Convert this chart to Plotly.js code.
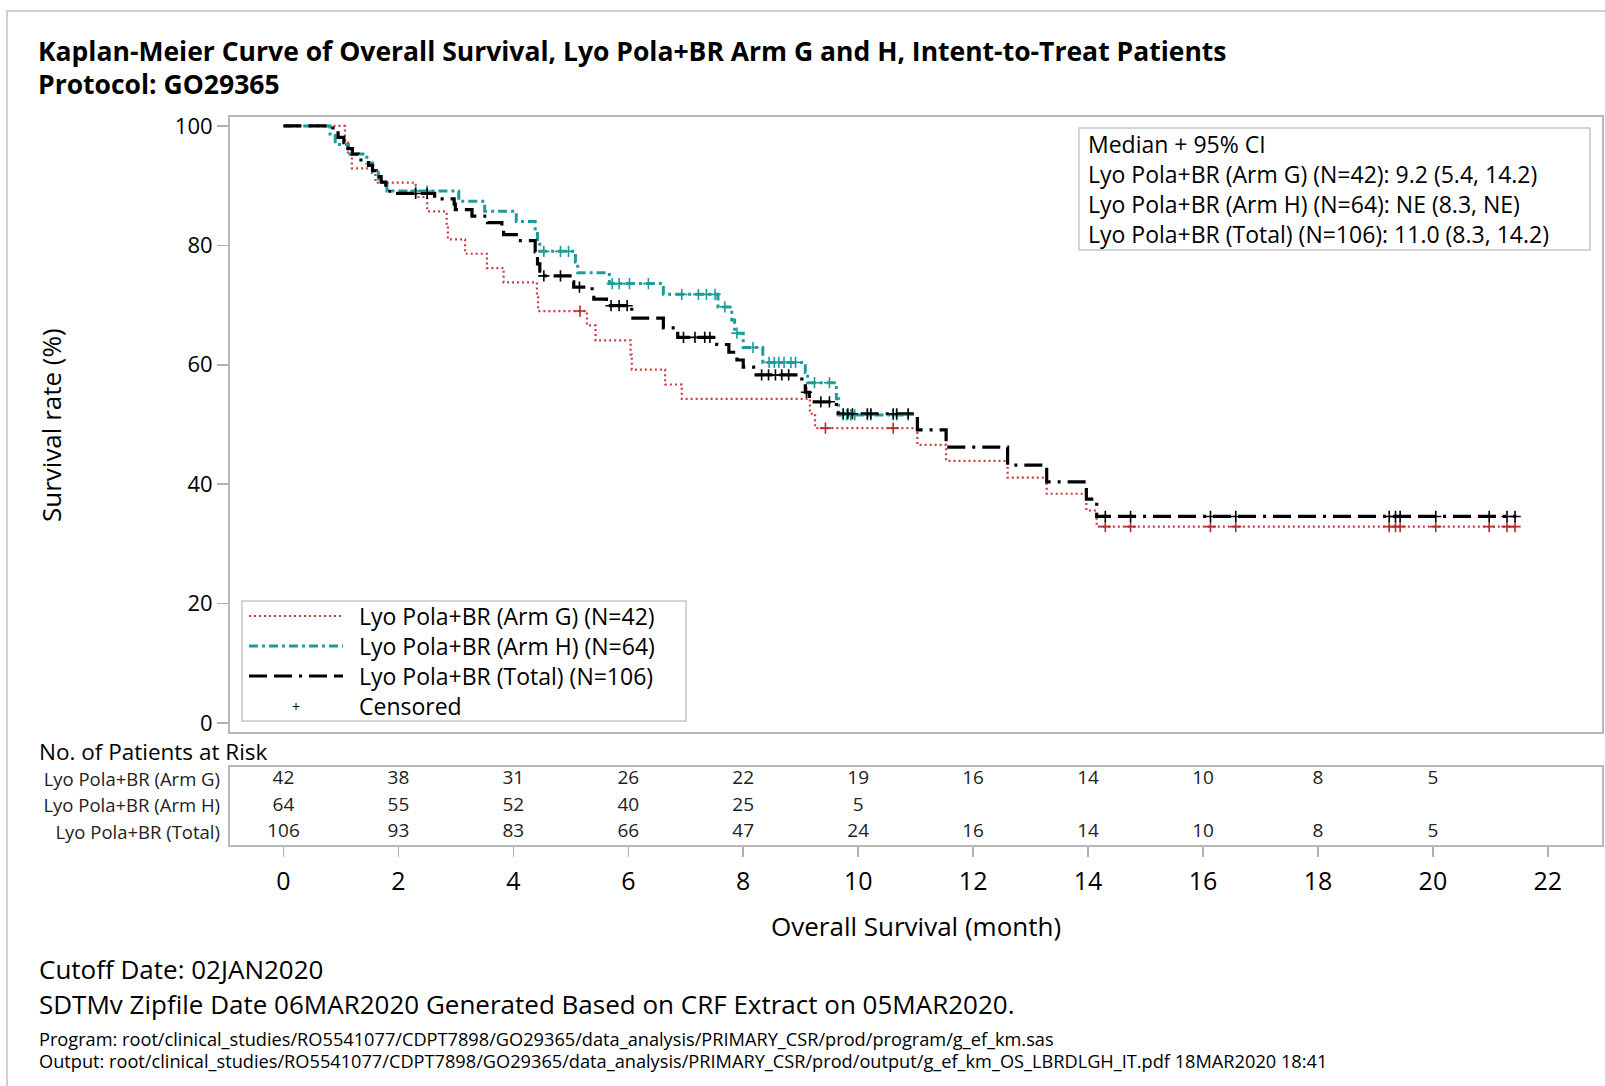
<!DOCTYPE html>
<html>
<head>
<meta charset="utf-8">
<script src="https://cdn.plot.ly/plotly-3.0.1.min.js"></script>
<style>
html,body{margin:0;padding:0;background:#fff;}
#chart{width:1605px;height:1086px;}
</style>
</head>
<body>
<div id="chart"></div>
<script>
// ---------------- DATA ----------------
// Arm G (N=42): Kaplan-Meier step times (months) and survival (%)
const armG_time = [0, 1.07, 1.12, 1.19, 1.60, 2.30, 2.50, 2.84, 2.86, 3.16, 3.54, 3.83, 4.41, 4.43, 5.28, 5.43, 6.04, 6.06, 6.64, 6.93, 9.16, 9.25, 11.03, 11.53, 12.60, 13.28, 13.97, 14.15, 21.45];
const armG_surv = [100, 97.6, 95.2, 92.9, 90.5, 88.1, 85.7, 83.3, 81.0, 78.6, 76.2, 73.8, 71.4, 69.0, 66.6, 64.1, 61.7, 59.2, 56.7, 54.3, 51.8, 49.4, 46.6, 43.9, 41.1, 38.4, 35.6, 32.9, 32.9];
const armG_censor = [5.16, 9.43, 10.61, 14.30, 14.74, 16.13, 16.57, 19.24, 19.35, 19.43, 20.05, 20.98, 21.29, 21.43];

// Arm H (N=64)
const armH_time = [0, 0.81, 0.90, 1.13, 1.45, 1.55, 1.65, 1.80, 3.05, 3.50, 4.05, 4.38, 4.42, 4.46, 5.08, 5.12, 5.67, 6.61, 7.56, 7.80, 7.85, 8.00, 8.34, 9.08, 9.12, 9.62, 9.66, 10.87];
const armH_surv = [100, 98.4, 96.9, 95.3, 93.8, 92.2, 90.6, 89.1, 87.4, 85.7, 84.0, 82.3, 80.6, 79.0, 77.2, 75.4, 73.6, 71.8, 69.7, 67.5, 65.3, 62.9, 60.4, 58.7, 57.0, 54.3, 51.6, 51.6];
const armH_censor = [2.30, 2.50, 4.53, 4.82, 4.96, 5.72, 5.84, 6.02, 6.35, 6.93, 7.22, 7.36, 7.51, 7.68, 7.89, 8.17, 8.45, 8.54, 8.62, 8.71, 8.83, 8.91, 9.24, 9.50, 9.74, 9.80, 9.87, 9.94, 10.16, 10.22, 10.61, 10.67, 10.87];

// Total (N=106)
const total_time = [0, 0.86, 0.95, 1.05, 1.12, 1.20, 1.30, 1.48, 1.55, 1.62, 1.70, 1.78, 1.85, 2.63, 2.97, 2.99, 3.28, 3.55, 3.80, 3.83, 4.05, 4.38, 4.42, 4.46, 5.02, 5.05, 5.37, 5.40, 5.62, 6.06, 6.08, 6.61, 6.86, 7.54, 7.75, 7.89, 8.00, 8.18, 9.02, 9.08, 9.15, 9.62, 9.65, 11.03, 11.53, 12.60, 13.28, 13.97, 14.15, 21.45];
const total_surv = [100, 99.1, 98.1, 97.2, 96.2, 95.3, 94.3, 93.4, 92.5, 91.5, 90.6, 89.6, 88.7, 87.8, 86.9, 86.0, 84.9, 83.8, 82.8, 81.8, 80.8, 78.9, 76.9, 74.9, 73.9, 73.0, 72.0, 71.0, 69.9, 68.9, 67.8, 66.2, 64.6, 63.4, 62.1, 60.8, 59.6, 58.3, 57.0, 55.4, 53.8, 52.8, 51.8, 49.1, 46.2, 43.2, 40.4, 37.5, 34.6, 34.6];
const total_censor = [2.30, 2.50, 4.53, 4.82, 5.15, 5.70, 5.84, 5.98, 6.96, 7.16, 7.33, 7.42, 8.32, 8.44, 8.56, 8.67, 8.79, 9.10, 9.35, 9.50, 9.74, 9.82, 9.90, 10.16, 10.22, 10.61, 10.67, 10.87, 14.30, 14.74, 16.13, 16.57, 19.24, 19.35, 19.43, 20.05, 20.98, 21.29, 21.43];

// Number at risk table
const riskTimes = [0, 2, 4, 6, 8, 10, 12, 14, 16, 18, 20];
const riskG = [42, 38, 31, 26, 22, 19, 16, 14, 10, 8, 5];
const riskH = [64, 55, 52, 40, 25, 5, null, null, null, null, null];
const riskT = [106, 93, 83, 66, 47, 24, 16, 14, 10, 8, 5];
const riskRowLabels = ["Lyo Pola+BR (Arm G)", "Lyo Pola+BR (Arm H)", "Lyo Pola+BR (Total)"];

// Series names and texts
const seriesNames = ["Lyo Pola+BR (Arm G) (N=42)", "Lyo Pola+BR (Arm H) (N=64)", "Lyo Pola+BR (Total) (N=106)", "Censored"];
const medianLines = ["Median + 95% CI", "Lyo Pola+BR (Arm G) (N=42): 9.2 (5.4, 14.2)", "Lyo Pola+BR (Arm H) (N=64): NE (8.3, NE)", "Lyo Pola+BR (Total) (N=106): 11.0 (8.3, 14.2)"];
const xTicks = [0, 2, 4, 6, 8, 10, 12, 14, 16, 18, 20, 22];
const yTicks = [0, 20, 40, 60, 80, 100];

// ---------------- STYLE ----------------
const FONT = "Open Sans, Noto Sans, Arial, sans-serif";
const colG = "#cc3d3d", colH = "#1f9b9b", colT = "#000000";
const dashG = "2px,3px", dashH = "9px,4px,3px,4px", dashT = "18px,7px,18px,7px,3px,7px";

function stepAt(times, surv, t) {
  let v = surv[0];
  for (let i = 0; i < times.length; i++) { if (times[i] <= t) v = surv[i]; }
  return v;
}

function curve(times, surv, color, dash, width, name) {
  return {type: "scatter", mode: "lines", x: times, y: surv, xaxis: "x", yaxis: "y",
    line: {shape: "hv", color: color, dash: dash, width: width}, name: name, showlegend: false, hoverinfo: "skip"};
}
function censors(ct, times, surv, color, name) {
  return {type: "scatter", mode: "markers", x: ct, y: ct.map(t => stepAt(times, surv, t)), xaxis: "x", yaxis: "y",
    marker: {symbol: "cross-thin", size: 8, line: {color: color, width: 1.6}, color: color}, name: name, showlegend: false, hoverinfo: "skip"};
}

const traces = [
  curve(armG_time, armG_surv, colG, dashG, 2.2, seriesNames[0]),
  curve(armH_time, armH_surv, colH, dashH, 3, seriesNames[1]),
  curve(total_time, total_surv, colT, dashT, 3.2, seriesNames[2]),
  censors(armG_censor, armG_time, armG_surv, "#b52a2a", "Censored G"),
  censors(armH_censor, armH_time, armH_surv, colH, "Censored H"),
  censors(total_censor, total_time, total_surv, colT, "Censored Total"),
  {type: "scatter", mode: "text", xaxis: "x", yaxis: "y2", cliponaxis: false,
    x: riskTimes.concat(riskTimes).concat(riskTimes),
    y: riskTimes.map(() => 1).concat(riskTimes.map(() => 2)).concat(riskTimes.map(() => 3)),
    text: riskG.concat(riskH).concat(riskT).map(v => v === null ? "" : String(v)),
    textfont: {family: FONT, size: 19, color: "#222"}, textposition: "middle center", showlegend: false, hoverinfo: "skip"}
];

// ---------------- LAYOUT ----------------
// plot area: x 229..1603, y 116..846 (px)
const L = 229, T = 116, W = 1374, H = 730;
const px = X => (X - L) / W;
const py = Y => (T + H - Y) / H;

const ann = [];
function text(t, X, Y, size, opts) {
  ann.push(Object.assign({text: t, x: px(X), y: py(Y), xref: "paper", yref: "paper", showarrow: false,
    xanchor: "left", yanchor: "middle", align: "left", font: {family: FONT, size: size, color: "#000"}}, opts || {}));
}
text("<b>Kaplan-Meier Curve of Overall Survival, Lyo Pola+BR Arm G and H, Intent-to-Treat Patients</b>", 36, 51, 26.5);
text("<b>Protocol: GO29365</b>", 36, 84, 26.5);
text("Survival rate (%)", 51, 425, 26, {textangle: -90, xanchor: "center"});
text("Overall Survival (month)", 916, 926, 26, {xanchor: "center"});
text("No. of Patients at Risk", 37, 751, 22.5);
text("Cutoff Date: 02JAN2020", 37, 969, 26);
text("SDTMv Zipfile Date 06MAR2020 Generated Based on CRF Extract on 05MAR2020.", 37, 1004, 26);
text("Program: root/clinical_studies/RO5541077/CDPT7898/GO29365/data_analysis/PRIMARY_CSR/prod/program/g_ef_km.sas", 37, 1039, 18.2);
text("Output: root/clinical_studies/RO5541077/CDPT7898/GO29365/data_analysis/PRIMARY_CSR/prod/output/g_ef_km_OS_LBRDLGH_IT.pdf 18MAR2020 18:41", 37, 1061, 18.2);
// median box text (one block)
text(medianLines.join("<br>"), 1086, 189, 23);
// legend text (one block)
text(seriesNames.join("<br>"), 357, 661, 23);
text("+", 296, 706, 14, {xanchor: "center"});

const shapes = [
  // outer frame of figure
  {type: "rect", xref: "paper", yref: "paper", x0: px(7), x1: px(1612), y0: py(1092), y1: py(11), line: {color: "#cfcfcf", width: 2}, layer: "below"},
  // main plot frame
  {type: "rect", xref: "paper", yref: "paper", x0: 0, x1: 1, y0: py(733), y1: 1, line: {color: "#b8b8b8", width: 2}},
  // risk table frame
  {type: "rect", xref: "paper", yref: "paper", x0: 0, x1: 1, y0: 0, y1: py(766), line: {color: "#b8b8b8", width: 2}},
  // median box
  {type: "rect", xref: "paper", yref: "paper", x0: px(1079), x1: px(1590), y0: py(250), y1: py(128), line: {color: "#c8c8c8", width: 1.5}, fillcolor: "#fff"},
  // legend box
  {type: "rect", xref: "paper", yref: "paper", x0: px(242), x1: px(686), y0: py(721), y1: py(601), line: {color: "#c8c8c8", width: 1.5}, fillcolor: "#fff"},
  // legend samples
  {type: "line", xref: "paper", yref: "paper", x0: px(249), x1: px(343), y0: py(616), y1: py(616), line: {color: colG, dash: dashG, width: 2.2}},
  {type: "line", xref: "paper", yref: "paper", x0: px(249), x1: px(343), y0: py(646), y1: py(646), line: {color: colH, dash: dashH, width: 3}},
  {type: "line", xref: "paper", yref: "paper", x0: px(249), x1: px(343), y0: py(676), y1: py(676), line: {color: colT, dash: dashT, width: 3.2}}
];

const layout = {
  width: 1605, height: 1086,
  margin: {l: L, r: 1605 - L - W, t: T, b: 1086 - T - H, pad: 0},
  paper_bgcolor: "#fff", plot_bgcolor: "rgba(0,0,0,0)",
  font: {family: FONT, color: "#000"},
  showlegend: false,
  xaxis: {range: [-0.948, 22.96], tickvals: xTicks, ticks: "outside", ticklen: 10, tickwidth: 1.5, tickcolor: "#b0b0b0",
    showline: false, showgrid: false, zeroline: false, anchor: "y2", tickfont: {family: FONT, size: 25, color: "#000"}, ticklabelstandoff: 3},
  yaxis: {domain: [py(733), 1], range: [-1.67, 101.67], tickvals: yTicks, ticks: "outside", ticklen: 11, tickwidth: 1.5, tickcolor: "#b0b0b0",
    showline: false, showgrid: false, zeroline: false, anchor: "x", tickfont: {family: FONT, size: 22, color: "#000"}},
  yaxis2: {domain: [0, py(766)], range: [3.5, 0.5], tickvals: [1, 2, 3], ticktext: riskRowLabels, ticks: "", showline: false,
    showgrid: false, zeroline: false, anchor: "x", tickfont: {family: FONT, size: 18.5, color: "#222"}, ticklabelstandoff: 8},
  shapes: shapes,
  annotations: ann
};

Plotly.newPlot("chart", traces, layout, {displayModeBar: false, staticPlot: true});
</script>
</body>
</html>
